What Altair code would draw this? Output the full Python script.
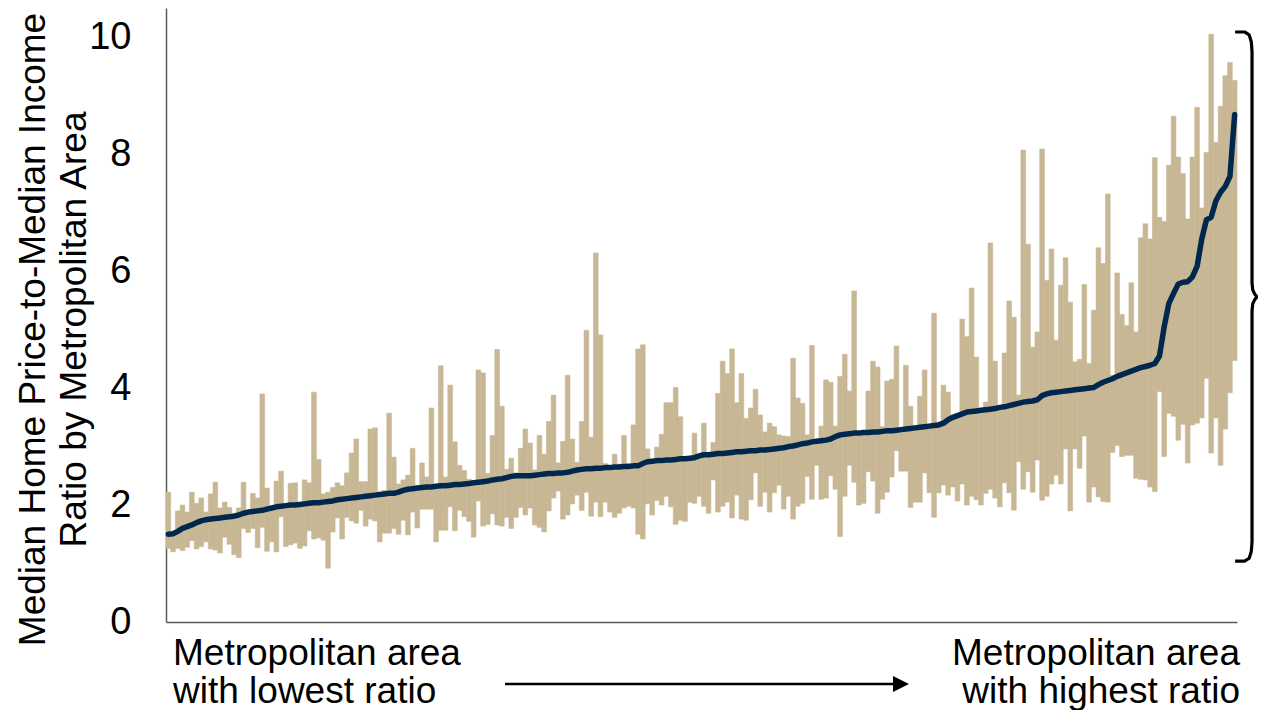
import altair as alt
import pandas as pd

# Highest, lowest and median price-to-income ratio for each metro, sorted by median
high = [
    2.22, 1.54, 1.90, 2.00, 1.88, 2.22, 2.03, 2.12, 1.88, 2.19,
    2.39, 1.95, 2.05, 1.96, 1.86, 1.95, 2.39, 1.90, 2.20, 2.12,
    3.90, 2.29, 1.97, 2.41, 2.58, 2.00, 2.37, 2.38, 2.03, 2.43,
    2.38, 3.93, 2.78, 2.19, 2.22, 2.30, 2.38, 2.33, 2.55, 2.89,
    3.13, 2.40, 2.40, 3.30, 3.32, 2.22, 2.25, 3.57, 2.82, 2.36,
    2.43, 2.51, 2.97, 2.30, 2.72, 2.48, 3.66, 2.36, 4.38, 2.48,
    4.05, 3.08, 2.68, 2.59, 2.44, 2.40, 4.31, 4.26, 2.54, 3.19,
    4.66, 3.69, 2.61, 2.80, 2.55, 2.97, 3.30, 3.06, 2.60, 3.19,
    2.87, 3.43, 3.88, 2.72, 3.09, 4.22, 3.13, 2.73, 3.43, 4.99,
    3.16, 6.31, 4.91, 2.71, 2.65, 2.87, 2.70, 3.19, 2.71, 3.37,
    4.67, 4.74, 2.96, 2.78, 2.99, 3.21, 3.75, 3.75, 4.01, 3.51,
    2.80, 2.82, 3.23, 2.86, 3.40, 2.88, 3.07, 3.91, 4.46, 4.25,
    4.67, 3.75, 4.25, 3.48, 3.66, 3.98, 3.54, 3.25, 3.40, 3.34,
    3.20, 3.18, 3.17, 4.51, 3.83, 3.74, 3.20, 4.73, 3.12, 3.35,
    4.14, 4.10, 3.35, 4.20, 4.58, 3.95, 5.66, 3.25, 3.28, 3.95,
    4.46, 4.36, 3.34, 4.12, 4.15, 4.72, 3.31, 4.39, 3.69, 3.36,
    3.86, 4.31, 3.38, 5.28, 3.42, 4.05, 3.93, 3.53, 3.56, 5.18,
    4.88, 5.71, 4.53, 3.65, 3.76, 6.48, 4.46, 3.70, 4.60, 5.49,
    5.21, 3.88, 8.07, 6.46, 4.70, 4.96, 8.09, 5.84, 6.38, 4.82,
    5.76, 6.23, 5.47, 4.45, 4.49, 5.77, 4.42, 5.33, 6.40, 6.13,
    7.32, 4.22, 5.97, 5.26, 5.07, 5.80, 4.96, 6.57, 6.81, 6.55,
    7.94, 6.92, 6.85, 7.81, 8.65, 7.95, 7.67, 6.89, 7.95, 8.80,
    7.08, 8.03, 10.05, 8.20, 8.82, 9.34, 9.57, 9.26,
]

low = [
    1.26, 1.20, 1.26, 1.22, 1.28, 1.39, 1.25, 1.29, 1.37, 1.25,
    1.23, 1.18, 1.45, 1.33, 1.15, 1.10, 1.60, 1.53, 1.60, 1.27,
    1.62, 1.21, 1.37, 1.20, 1.80, 1.29, 1.32, 1.35, 1.26, 1.30,
    1.56, 1.42, 1.44, 1.40, 0.92, 1.54, 1.78, 1.42, 1.79, 1.73,
    1.69, 1.91, 1.64, 1.76, 1.73, 1.37, 1.52, 1.52, 1.60, 1.50,
    1.74, 1.49, 1.88, 1.61, 1.93, 1.93, 1.93, 1.37, 1.57, 1.57,
    1.97, 1.56, 1.91, 1.80, 1.72, 1.45, 2.07, 1.64, 1.67, 1.85,
    1.66, 1.64, 1.79, 1.60, 1.79, 1.96, 1.83, 1.95, 1.66, 1.62,
    1.54, 1.90, 2.12, 2.24, 1.76, 1.83, 2.02, 2.17, 1.91, 2.22,
    1.81, 2.05, 1.80, 2.05, 1.88, 1.79, 1.86, 1.95, 1.98, 1.95,
    1.50, 1.42, 2.02, 1.83, 2.08, 2.00, 2.15, 1.97, 1.67, 1.74,
    1.72, 2.05, 2.03, 2.15, 1.98, 1.86, 2.43, 1.88, 1.98, 2.05,
    1.78, 2.17, 1.76, 1.74, 2.09, 2.55, 1.98, 2.22, 1.88, 2.21,
    2.34, 1.93, 2.15, 1.76, 1.98, 2.03, 2.49, 2.10, 2.68, 2.10,
    2.12, 2.50, 2.27, 1.46, 2.15, 2.68, 2.39, 2.00, 2.03, 2.57,
    2.41, 1.86, 2.10, 2.22, 2.48, 2.93, 2.58, 2.58, 1.96, 2.05,
    2.05, 2.55, 2.21, 1.79, 2.21, 2.34, 2.17, 2.31, 2.07, 2.36,
    2.00, 2.15, 2.09, 2.00, 2.20, 2.27, 2.12, 1.97, 2.38, 2.21,
    1.91, 2.74, 2.27, 2.57, 2.22, 2.77, 2.08, 2.15, 2.36, 2.51,
    2.36, 2.96, 1.90, 2.96, 2.63, 3.18, 2.05, 2.31, 2.14, 2.06,
    2.05, 2.90, 3.02, 2.83, 2.85, 2.85, 2.46, 2.44, 2.43, 2.31,
    2.23, 3.94, 2.83, 3.57, 3.52, 3.11, 3.38, 2.72, 3.37, 3.40,
    3.49, 4.17, 2.89, 3.49, 2.68, 3.30, 3.92, 4.47,
]

median = [
    1.50, 1.51, 1.55, 1.60, 1.63, 1.66, 1.70, 1.73, 1.75, 1.76,
    1.77, 1.78, 1.79, 1.80, 1.81, 1.83, 1.86, 1.88, 1.89, 1.90,
    1.91, 1.93, 1.95, 1.97, 1.98, 1.99, 2.00, 2.00, 2.01, 2.02,
    2.03, 2.04, 2.04, 2.05, 2.06, 2.07, 2.09, 2.10, 2.11, 2.12,
    2.13, 2.14, 2.15, 2.16, 2.17, 2.18, 2.19, 2.20, 2.20, 2.22,
    2.25, 2.27, 2.28, 2.29, 2.30, 2.31, 2.31, 2.32, 2.33, 2.33,
    2.34, 2.35, 2.35, 2.36, 2.37, 2.38, 2.39, 2.40, 2.41, 2.43,
    2.44, 2.45, 2.47, 2.49, 2.50, 2.50, 2.50, 2.50, 2.51, 2.52,
    2.53, 2.54, 2.54, 2.55, 2.55, 2.56, 2.58, 2.60, 2.61, 2.62,
    2.62, 2.63, 2.63, 2.64, 2.64, 2.65, 2.65, 2.66, 2.66, 2.67,
    2.67, 2.71, 2.74, 2.75, 2.76, 2.76, 2.77, 2.77, 2.78, 2.79,
    2.79, 2.80, 2.81, 2.84, 2.86, 2.86, 2.87, 2.88, 2.88, 2.89,
    2.90, 2.91, 2.91, 2.92, 2.93, 2.93, 2.94, 2.94, 2.95, 2.96,
    2.97, 2.98, 3.00, 3.01, 3.03, 3.05, 3.06, 3.08, 3.09, 3.10,
    3.11, 3.13, 3.17, 3.20, 3.21, 3.22, 3.23, 3.23, 3.24, 3.24,
    3.25, 3.25, 3.26, 3.27, 3.27, 3.28, 3.29, 3.30, 3.31, 3.32,
    3.33, 3.34, 3.35, 3.36, 3.37, 3.40, 3.46, 3.50, 3.53, 3.56,
    3.59, 3.60, 3.61, 3.62, 3.63, 3.64, 3.65, 3.67, 3.68, 3.70,
    3.72, 3.74, 3.76, 3.77, 3.78, 3.80, 3.87, 3.90, 3.92, 3.93,
    3.94, 3.95, 3.96, 3.97, 3.98, 3.99, 4.00, 4.01, 4.06, 4.10,
    4.13, 4.16, 4.20, 4.23, 4.26, 4.29, 4.32, 4.35, 4.37, 4.39,
    4.42, 4.55, 5.05, 5.45, 5.62, 5.78, 5.81, 5.82, 5.90, 6.08,
    6.55, 6.88, 6.92, 7.20, 7.35, 7.45, 7.62, 8.68,
]

y_ticks = [0, 2, 4, 6, 8, 10]
y_title = ["Median Home Price-to-Median Income", "Ratio by Metropolitan Area"]
left_label = ["Metropolitan area", "with lowest ratio"]
right_label = ["Metropolitan area", "with highest ratio"]

# curly brace beside the chart (in data units: x = metro rank, y = ratio)
brace_x = [227.6, 229.6, 230.6, 231.05, 231.2, 231.2, 231.35, 231.75, 232.25,
           231.75, 231.35, 231.2, 231.2, 231.05, 230.6, 229.6, 227.6]
brace_y = [10.09, 10.09, 10.04, 9.92, 9.75, 5.80, 5.68, 5.61, 5.56,
           5.51, 5.44, 5.32, 1.38, 1.21, 1.09, 1.04, 1.04]

n = len(high)
df = pd.DataFrame({
    "rank": list(range(n)),
    "rank2": [i + 1 for i in range(n)],
    "mid": [i + 0.5 for i in range(n)],
    "low": low,
    "high": high,
    "median": median,
})
brace_df = pd.DataFrame({"bx": brace_x, "by": brace_y, "o": list(range(len(brace_x)))})

FONT = "Liberation Sans"
TAN = "#c8b794"
NAVY = "#00284f"
AXIS = "#595959"

W, H = 1071, 614
xscale = alt.Scale(domain=[0, n], nice=False, zero=False)
yscale = alt.Scale(domain=[0, 10.5], nice=False)

bars = alt.Chart(df).mark_rect(color=TAN, stroke=TAN, strokeWidth=0.6).encode(
    x=alt.X("rank:Q", scale=xscale,
            axis=alt.Axis(labels=False, ticks=False, title=None, grid=False,
                          domainColor=AXIS, domainWidth=1.5)),
    x2="rank2:Q",
    y=alt.Y("low:Q", scale=yscale,
            axis=alt.Axis(values=y_ticks, format="d", ticks=False, tickSize=0, grid=False,
                          labelFont=FONT, labelFontSize=38, labelColor="black",
                          labelPadding=35, domainColor=AXIS, domainWidth=1.5,
                          title=y_title, titleFont=FONT, titleFontSize=37,
                          titleFontWeight="normal", titleColor="black",
                          titleAngle=270, titleAlign="center", titleBaseline="top",
                          titleLineHeight=41, titleX=-151, titleY=321)),
    y2="high:Q",
)

line = alt.Chart(df).mark_line(color=NAVY, strokeWidth=5.5, strokeCap="round",
                               strokeJoin="round").encode(
    x=alt.X("mid:Q", scale=xscale),
    y=alt.Y("median:Q", scale=yscale),
)

brace = alt.Chart(brace_df).mark_line(color="black", strokeWidth=3.2,
                                      strokeJoin="round", clip=False).encode(
    x=alt.X("bx:Q", scale=xscale),
    y=alt.Y("by:Q", scale=yscale),
    order="o:Q",
)

label_left = alt.Chart(df.head(1)).mark_text(
    font=FONT, fontSize=37, align="left", baseline="alphabetic",
    lineHeight=38, color="black").encode(
    x=alt.value(7), y=alt.value(657), text=alt.value(left_label))

label_right = alt.Chart(df.head(1)).mark_text(
    font=FONT, fontSize=37, align="right", baseline="alphabetic",
    lineHeight=38, color="black").encode(
    x=alt.value(1074), y=alt.value(657), text=alt.value(right_label))

arrow_shaft = alt.Chart(df.head(1)).mark_rule(color="black", strokeWidth=2.5).encode(
    x=alt.value(339), x2=alt.value(729), y=alt.value(676))

arrow_head = alt.Chart(df.head(1)).mark_point(
    shape="M-1,-1L1,0L-1,1Z", filled=True, color="black", opacity=1, size=256).encode(
    x=alt.value(735), y=alt.value(676))

chart = alt.layer(bars, line, brace, label_left, label_right, arrow_shaft, arrow_head).properties(
    width=W, height=H,
    autosize=alt.AutoSizeParams(type="none"),
    padding={"left": 158, "top": 0, "right": 21, "bottom": 88},
).configure_view(stroke=None)

chart.save("out.html", embed_options={"renderer": "svg", "actions": False})
